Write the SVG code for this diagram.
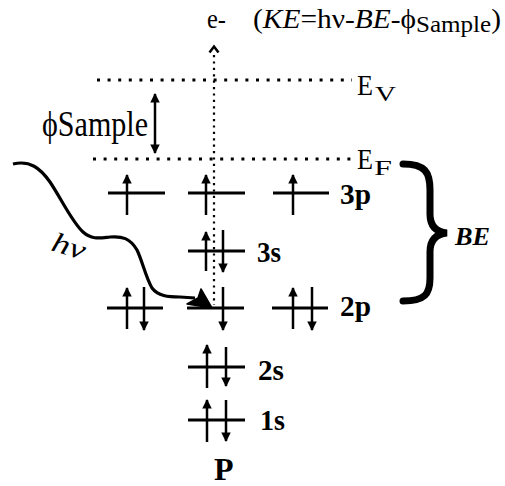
<svg xmlns="http://www.w3.org/2000/svg" width="505" height="486" viewBox="0 0 505 486">
<defs>
<style>
.t{font-family:"Liberation Serif","Times New Roman",serif;fill:#000}
.b{font-weight:bold}
.i{font-style:italic}
.orb{stroke:#000;stroke-width:3;fill:none}
.arr{stroke:#000;stroke-width:2.5;fill:none}
.dotH{stroke:#000;stroke-width:3;stroke-dasharray:3 7.6;fill:none}
.dotV{stroke:#000;stroke-width:2.2;stroke-dasharray:2.2 4.2;fill:none}
</style>
<marker id="ah" viewBox="0 0 10 10" refX="9" refY="5" markerWidth="3.8" markerHeight="3.8" orient="auto-start-reverse" markerUnits="strokeWidth">
<path d="M0,0 L10,5 L0,10 Z" fill="#000"/>
</marker>
</defs>
<rect width="505" height="486" fill="#fff"/>

<g id="levels">
<line class="dotH" x1="97" y1="80" x2="352" y2="80"/>
<line class="dotH" x1="93" y1="159" x2="352" y2="159"/>
<text class="t" x="357" y="95" font-size="30" textLength="16" lengthAdjust="spacingAndGlyphs">E</text>
<text class="t" x="375" y="101" font-size="22" textLength="21" lengthAdjust="spacingAndGlyphs">V</text>
<text class="t" x="357" y="169" font-size="30" textLength="16" lengthAdjust="spacingAndGlyphs">E</text>
<text class="t" x="374" y="175" font-size="22" textLength="18" lengthAdjust="spacingAndGlyphs">F</text>
</g>

<g id="work-function">
<line class="arr" stroke-width="2.2" x1="155" y1="94" x2="155" y2="153" marker-start="url(#ah)" marker-end="url(#ah)"/>
<text class="t" x="42" y="136" font-size="35" textLength="106" lengthAdjust="spacingAndGlyphs">ϕSample</text>
</g>

<g id="connectors">
<line class="dotV" x1="214" y1="55" x2="214" y2="305"/>
<polyline points="209.5,52.5 214,46.5 218.5,52.5" stroke="#000" stroke-width="2.5" fill="none"/>
<path d="M13,164 C30,160 40,168 50,182 C62,200 72,222 83,232 C92,240 100,238 110,237 C122,236 130,238 137,250 C142,260 146,278 152,288 C158,296 168,297 180,297 L195,298" stroke="#000" stroke-width="3.2" fill="none"/>
<path d="M212,308 L201,289 L198,298 L187,304 Z" fill="#000" stroke="#000" stroke-width="1.5" stroke-linejoin="round"/>
</g>

<g id="title">
<text class="t" x="207" y="28" font-size="28" textLength="19" lengthAdjust="spacingAndGlyphs">e-</text>
<text class="t" x="253" y="28" font-size="27" textLength="248" lengthAdjust="spacingAndGlyphs">(<tspan class="i">KE</tspan>=hν-<tspan class="i">BE</tspan>-ϕ<tspan dy="4" font-size="23">Sample</tspan><tspan dy="-4">)</tspan></text>
</g>

<g id="hv">
<text class="t i" transform="translate(50,250) rotate(17)" font-size="28" textLength="34" lengthAdjust="spacingAndGlyphs">hν</text>
</g>

<g id="orbital-3p">
<line class="orb" x1="108" y1="193" x2="165" y2="193"/>
<line class="arr" x1="127" y1="215" x2="127" y2="175" marker-end="url(#ah)"/>
<line class="orb" x1="188" y1="193" x2="245" y2="193"/>
<line class="arr" x1="206" y1="215" x2="206" y2="175" marker-end="url(#ah)"/>
<line class="orb" x1="273" y1="193" x2="329" y2="193"/>
<line class="arr" x1="293" y1="215" x2="293" y2="175" marker-end="url(#ah)"/>
<text class="t b" x="340" y="204" font-size="29" textLength="31" lengthAdjust="spacingAndGlyphs">3p</text>
</g>

<g id="orbital-3s">
<line class="orb" x1="188" y1="251" x2="245" y2="251"/>
<line class="arr" x1="206" y1="271" x2="206" y2="232" marker-end="url(#ah)"/>
<line class="arr" x1="223" y1="230" x2="223" y2="272" marker-end="url(#ah)"/>
<text class="t b" x="257" y="262" font-size="29" textLength="24" lengthAdjust="spacingAndGlyphs">3s</text>
</g>

<g id="orbital-2p">
<line class="orb" x1="107" y1="308" x2="163" y2="308"/>
<line class="arr" x1="127" y1="329" x2="127" y2="288" marker-end="url(#ah)"/>
<line class="arr" x1="144" y1="287" x2="144" y2="330" marker-end="url(#ah)"/>
<line class="orb" x1="187" y1="308" x2="244" y2="308"/>
<line class="arr" x1="223" y1="287" x2="223" y2="330" marker-end="url(#ah)"/>
<line class="orb" x1="272" y1="308" x2="328" y2="308"/>
<line class="arr" x1="293" y1="329" x2="293" y2="288" marker-end="url(#ah)"/>
<line class="arr" x1="312" y1="287" x2="312" y2="330" marker-end="url(#ah)"/>
<text class="t b" x="340" y="316" font-size="29" textLength="31" lengthAdjust="spacingAndGlyphs">2p</text>
</g>

<g id="orbital-2s">
<line class="orb" x1="188" y1="367" x2="245" y2="367"/>
<line class="arr" x1="207" y1="388" x2="207" y2="345" marker-end="url(#ah)"/>
<line class="arr" x1="226" y1="347" x2="226" y2="386" marker-end="url(#ah)"/>
<text class="t b" x="258" y="380" font-size="29" textLength="26" lengthAdjust="spacingAndGlyphs">2s</text>
</g>

<g id="orbital-1s">
<line class="orb" x1="188" y1="420" x2="245" y2="420"/>
<line class="arr" x1="207" y1="442" x2="207" y2="400" marker-end="url(#ah)"/>
<line class="arr" x1="226" y1="400" x2="226" y2="441" marker-end="url(#ah)"/>
<text class="t b" x="260" y="430" font-size="29" textLength="25" lengthAdjust="spacingAndGlyphs">1s</text>
</g>

<g id="element">
<text class="t b" x="214" y="480" font-size="32">P</text>
</g>

<g id="binding-energy">
<path d="M403,164 C425,164 430,172 430,190 L430,214 C430,226 436,232 447,233 C436,234 430,240 430,252 L430,278 C430,294 425,301 403,301" stroke="#000" stroke-width="7" fill="none" stroke-linecap="round"/>
<text class="t b i" x="455" y="245" font-size="26" textLength="35" lengthAdjust="spacingAndGlyphs">BE</text>
</g>
</svg>
